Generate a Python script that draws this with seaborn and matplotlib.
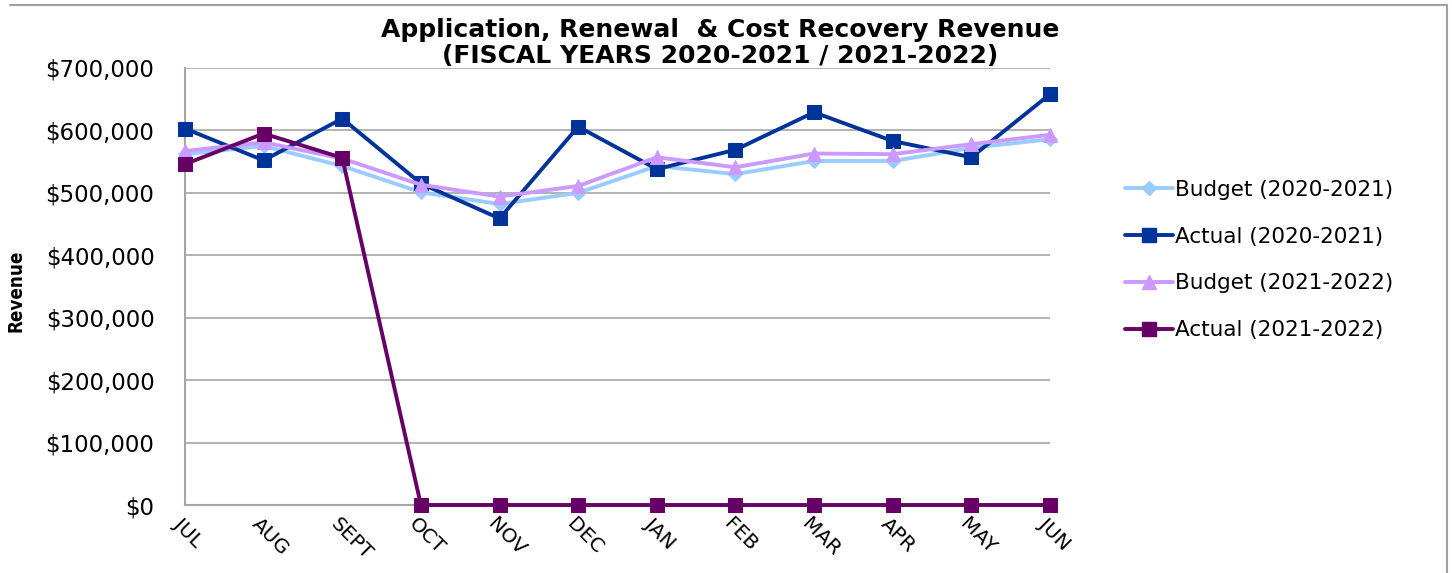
import matplotlib
matplotlib.use("Agg")
import matplotlib.pyplot as plt
from matplotlib.lines import Line2D
import matplotlib.transforms as mtrans
import seaborn as sns
import pandas as pd
import numpy as np

months = ["JUL", "AUG", "SEPT", "OCT", "NOV", "DEC", "JAN", "FEB", "MAR", "APR", "MAY", "JUN"]
budget_2020 = [562000, 575000, 543000, 501000, 482000, 500000, 543000, 530000, 551000, 551000, 572000, 586000]
actual_2020 = [603000, 552000, 619000, 515000, 459000, 606000, 538000, 569000, 629000, 583000, 557000, 658000]
budget_2021 = [567000, 581000, 555000, 513000, 494000, 511000, 557000, 541000, 563000, 562000, 578000, 593000]
actual_2021 = [546000, 595000, 556000, 0, 0, 0, 0, 0, 0, 0, 0, 0]

series_names = ["Budget (2020-2021)", "Actual (2020-2021)", "Budget (2021-2022)", "Actual (2021-2022)"]
series_values = [budget_2020, actual_2020, budget_2021, actual_2021]
colors = ["#99CCFF", "#003399", "#CC99FF", "#660066"]
markers = ["D", "s", "^", "s"]
msizes = [7, 10, 10, 10]

sns.set_theme(style="white")
plt.rcParams["font.family"] = ["DejaVu Sans"]
plt.rcParams["text.color"] = "black"
plt.rcParams["xtick.color"] = "black"
plt.rcParams["ytick.color"] = "black"

fig = plt.figure(figsize=(14.52, 5.73), dpi=100)
ax = fig.add_axes([185 / 1452, 1 - 505 / 573, (1050 - 185) / 1452, (505 - 68) / 573])

rows = []
for name, vals in zip(series_names, series_values):
    for i, v in enumerate(vals):
        rows.append({"pos": i, "month": months[i], "value": v, "series": name})
df = pd.DataFrame(rows)

for name, col, mk, ms in zip(series_names, colors, markers, msizes):
    sub = df[df["series"] == name]
    sns.lineplot(data=sub, x="pos", y="value", ax=ax, color=col, marker=mk,
                 markersize=ms, markeredgecolor=col, linewidth=2.8, label=name,
                 legend=False, clip_on=False, zorder=3)

ax.set_xlim(0, 11)
ax.set_ylim(0, 700000)
ax.set_yticks(np.arange(0, 700001, 100000))
ax.set_yticklabels([f"${v:,.0f}" for v in np.arange(0, 700001, 100000)], fontsize=16.5)
ax.set_xticks(range(len(months)))
ax.set_xticklabels(months, rotation=-45, ha="left", va="top", rotation_mode="anchor", fontsize=14.5)
ax.tick_params(axis="x", pad=7, length=0)
ax.tick_params(axis="y", pad=22, length=0)
offset = mtrans.ScaledTranslation(-2 / 100, 0, fig.dpi_scale_trans)
for lbl in ax.get_xticklabels():
    lbl.set_transform(lbl.get_transform() + offset)
ax.yaxis.grid(True, color="#A6A6A6", linewidth=1.2)
ax.xaxis.grid(False)
for s in ["top", "right"]:
    ax.spines[s].set_visible(False)
for s in ["left", "bottom"]:
    ax.spines[s].set_color("#A6A6A6")
    ax.spines[s].set_linewidth(1.5)
ax.set_xlabel("")
ax.set_ylabel("")

fig.text(16 / 1452, 1 - 291 / 573, "Revenue", rotation=90, ha="center", va="center",
         fontsize=13.5, fontweight="bold", fontstretch="condensed", color="black")

fig.text(720 / 1452, 1 - 30 / 573, "Application, Renewal  & Cost Recovery Revenue",
         ha="center", va="center", fontsize=18, fontweight="bold")
fig.text(720 / 1452, 1 - 56 / 573, "(FISCAL YEARS 2020-2021 / 2021-2022)",
         ha="center", va="center", fontsize=18, fontweight="bold")

handles = [Line2D([0], [0], color=c, marker=m, markersize=ms, linewidth=2.8, markeredgecolor=c)
           for c, m, ms in zip(colors, markers, msizes)]
leg = fig.legend(handles, series_names, loc="center left", bbox_to_anchor=(1106 / 1452, 1 - 260 / 573),
                 frameon=False, fontsize=15.5, labelspacing=1.25, handlelength=2.2, handletextpad=0.1)

# outer chart border lines
fig.add_artist(Line2D([10 / 1452, 1447 / 1452], [1 - 5 / 573, 1 - 5 / 573], color="#A0A0A0", linewidth=1.5))
fig.add_artist(Line2D([1447 / 1452, 1447 / 1452], [1 - 5 / 573, 0], color="#A0A0A0", linewidth=1.5))

fig.savefig("out.png", dpi=100)
